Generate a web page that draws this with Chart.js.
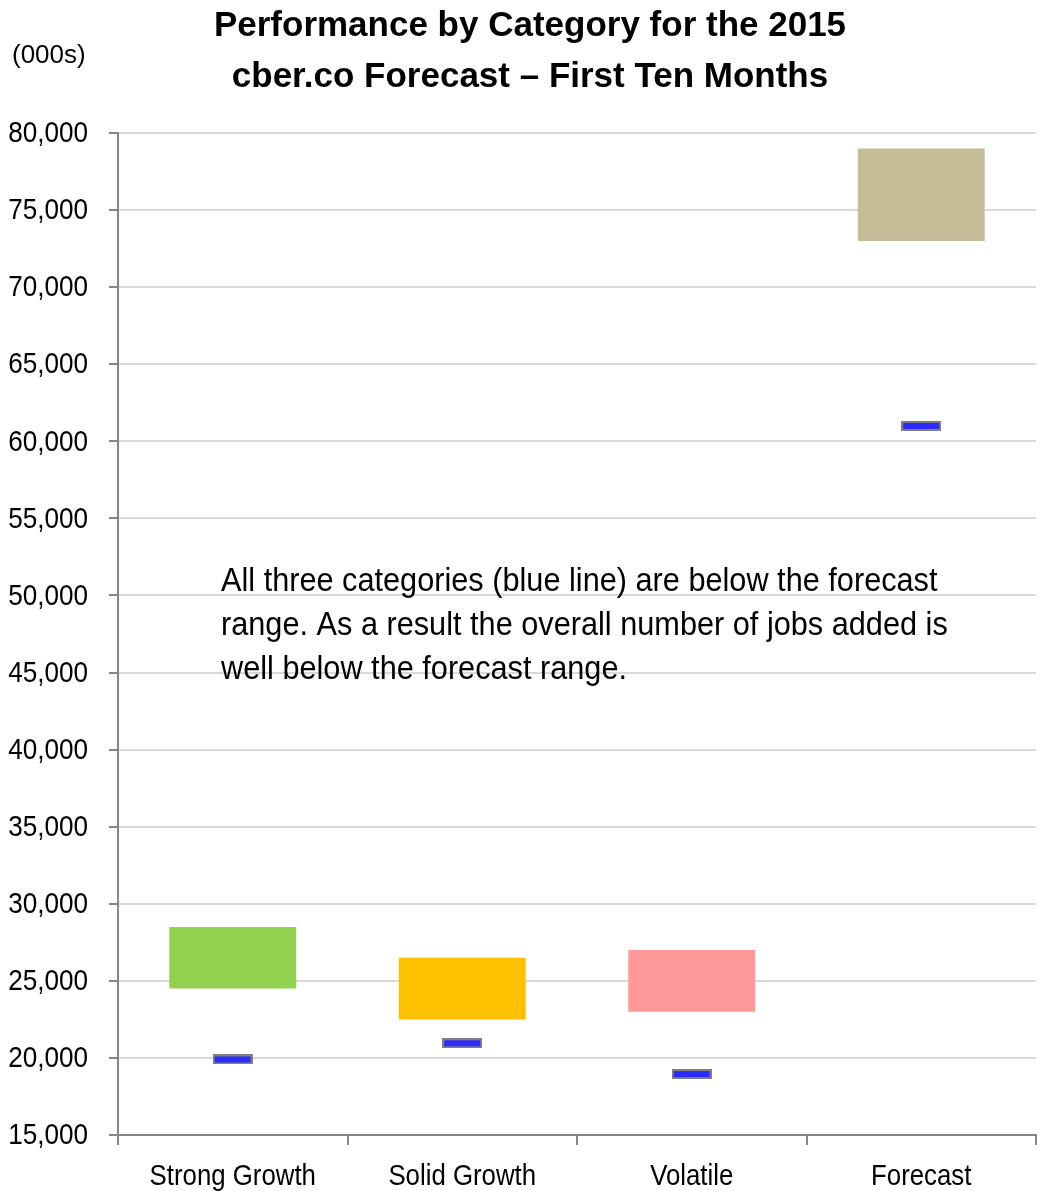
<!DOCTYPE html>
<html>
<head>
<meta charset="utf-8">
<script src="https://cdn.jsdelivr.net/npm/chart.js@4.4.1/dist/chart.umd.min.js"></script>
<style>
  body { margin: 0; background: #fff; }
  #wrap { width: 1041px; height: 1191px; }
</style>
</head>
<body>
<div id="wrap"><canvas id="myChart"></canvas></div>
<script>
const categories = ['Strong Growth', 'Solid Growth', 'Volatile', 'Forecast'];
const rangeLow = [24500, 22500, 23000, 73000];
const rangeHigh = [28500, 26500, 27000, 79000];
const actual = [19900, 20950, 18950, 61000];
const barColors = ['#92d050', '#ffc000', '#ff9999', '#c4bd97'];
const titleLines = ['Performance by Category for the 2015', 'cber.co Forecast \u2013 First Ten Months'];
const noteLines = [
    'All three categories (blue line) are below the forecast',
    'range. As a result the overall number of jobs added is',
    'well below the forecast range.'
];

const FONT = '"Liberation Sans", Arial, sans-serif';
const SQUEEZE = 0.87; // reference labels use a narrow face

// blue dash marker
function makeMarker() {
    const c = document.createElement('canvas');
    c.width = 40;
    c.height = 10;
    const g = c.getContext('2d');
    g.fillStyle = '#808080';
    g.fillRect(0, 0, 40, 10);
    g.fillStyle = '#2b2bff';
    g.fillRect(2, 2, 36, 6);
    return c;
}

function narrowText(ctx, text, x, y, sx) {
    ctx.save();
    ctx.translate(x, y);
    ctx.scale(sx, 1);
    ctx.fillText(text, 0, 0);
    ctx.restore();
}

const textPlugin = {
    id: 'texts',
    afterDraw(chart) {
        const ctx = chart.ctx;
        const xs = chart.scales.x;
        const ys = chart.scales.y;
        ctx.save();
        ctx.fillStyle = '#000';
        ctx.textBaseline = 'alphabetic';

        // title
        ctx.textAlign = 'center';
        ctx.font = 'bold 35px ' + FONT;
        ctx.fillText(titleLines[0], 530, 36);
        ctx.fillText(titleLines[1], 530, 87);

        ctx.textAlign = 'left';
        ctx.font = '26px ' + FONT;
        ctx.fillText('(000s)', 12, 63);

        // note
        ctx.font = '33px ' + FONT;
        noteLines.forEach((t, i) => narrowText(ctx, t, 221, 591 + i * 44, 0.93));

        // y tick labels
        ctx.font = '30px ' + FONT;
        ctx.textAlign = 'right';
        ctx.textBaseline = 'middle';
        ys.ticks.forEach(t => {
            narrowText(ctx, t.value.toLocaleString('en-US'), 88, ys.getPixelForValue(t.value) + 1, SQUEEZE);
        });

        // x tick labels
        ctx.textAlign = 'center';
        ctx.textBaseline = 'alphabetic';
        categories.forEach((c, i) => narrowText(ctx, c, xs.getPixelForValue(i), 1185, 0.86));
        ctx.restore();
    }
};

const ctx = document.getElementById('myChart').getContext('2d');
new Chart(ctx, {
    data: {
        labels: categories,
        datasets: [
            {
                type: 'line',
                label: 'Actual',
                data: actual,
                showLine: false,
                pointStyle: makeMarker(),
                order: 0
            },
            {
                type: 'bar',
                label: 'Forecast range',
                data: rangeLow.map((v, i) => [v, rangeHigh[i]]),
                backgroundColor: barColors,
                borderWidth: 0,
                categoryPercentage: 1,
                barPercentage: 0.553,
                order: 1
            }
        ]
    },
    options: {
        responsive: true,
        maintainAspectRatio: false,
        animation: false,
        layout: { padding: { top: 133, right: 5, left: 0, bottom: 0 } },
        plugins: {
            legend: { display: false },
            tooltip: { enabled: false }
        },
        scales: {
            x: {
                grid: { drawOnChartArea: false, offset: true, tickLength: 10, color: '#868686', lineWidth: 2 },
                border: { color: '#868686', width: 2 },
                ticks: { font: { family: FONT, size: 30 }, color: 'rgba(0,0,0,0)' },
                afterFit(scale) { scale.height = 56; }
            },
            y: {
                min: 15000,
                max: 80000,
                ticks: {
                    stepSize: 5000,
                    font: { family: FONT, size: 30 },
                    color: 'rgba(0,0,0,0)'
                },
                grid: { color: '#d9d9d9', lineWidth: 2, tickColor: '#868686', tickLength: 9 },
                border: { color: '#868686', width: 2 },
                afterFit(scale) { scale.width = 118; }
            }
        }
    },
    plugins: [textPlugin]
});
</script>
</body>
</html>
